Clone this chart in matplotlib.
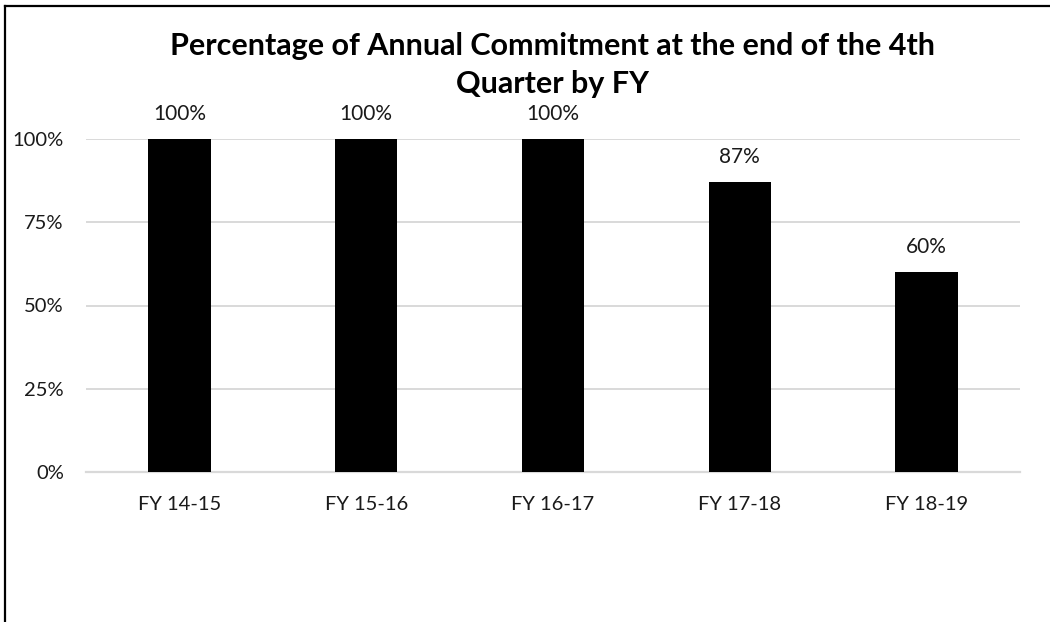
import matplotlib.pyplot as plt
from matplotlib.lines import Line2D

# Chart data
categories = ['FY 14-15', 'FY 15-16', 'FY 16-17', 'FY 17-18', 'FY 18-19']
values = [1.00, 1.00, 1.00, 0.87, 0.60]
y_ticks = [0, 0.25, 0.5, 0.75, 1.0]
y_tick_labels = ['0%', '25%', '50%', '75%', '100%']
title = 'Percentage of Annual Commitment at the end of the 4th\nQuarter by FY'

W, H = 1050, 622
plt.rcParams['font.family'] = ['Lato', 'DejaVu Sans']

fig = plt.figure(figsize=(W / 100, H / 100), dpi=100)

# frame lines visible on the top and left of the picture
fig.add_artist(Line2D([5 / W, 5 / W], [0, 1 - 6 / H], color='black', lw=1.6,
                      transform=fig.transFigure))
fig.add_artist(Line2D([5 / W, 1], [1 - 6 / H, 1 - 6 / H], color='black', lw=1.6,
                      transform=fig.transFigure))

ax = fig.add_axes([86 / W, (H - 472) / H, (1020 - 86) / W, (472 - 139) / H])
x = range(len(categories))
bars = ax.bar(x, values, width=0.333, color='black', zorder=3)

ax.set_xlim(-0.5, len(categories) - 0.5)
ax.set_ylim(0, 1)
ax.set_yticks(y_ticks)
ax.set_yticklabels(y_tick_labels, fontsize=14.5, color='#1a1a1a')
ax.set_xticks(list(x))
ax.set_xticklabels(categories, fontsize=14.5, color='#1a1a1a')
ax.tick_params(axis='both', length=0)
ax.tick_params(axis='y', pad=16)
ax.tick_params(axis='x', pad=17)

ax.grid(axis='y', color='#d9d9d9', linewidth=1.4, zorder=0)
for side in ['top', 'right', 'left']:
    ax.spines[side].set_visible(False)
ax.spines['bottom'].set_color('#d9d9d9')
ax.spines['bottom'].set_linewidth(1.6)

for xi, v in zip(x, values):
    ax.annotate(f'{v:.0%}', (xi, v), xytext=(0, 11), textcoords='offset points',
                ha='center', va='bottom', fontsize=15, color='#1a1a1a')

fig.text(553 / W, 1 - 65 / H, title, ha='center', va='center', fontsize=22,
         fontweight='bold', linespacing=1.43, color='black')

fig.savefig('out.png', dpi=100)
